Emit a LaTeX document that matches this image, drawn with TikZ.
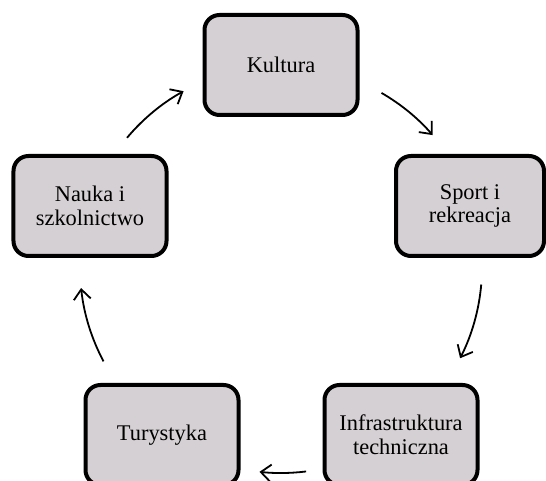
\documentclass[tikz,border=0pt]{standalone}
\usepackage{fontspec}
\setmainfont{Liberation Serif}
\usetikzlibrary{arrows.meta}
\definecolor{boxfill}{RGB}{213,208,211}

\begin{document}
\begin{tikzpicture}[x = 1bp, y = 1bp,
	box/.style = {draw, line width = 4bp, rounded corners = 15bp, fill = boxfill, minimum width = 153bp, minimum height = 100bp, inner sep = 0pt, align = center, font = \fontsize{22.5}{24}\selectfont},
	cycle/.style = {line width = 1.8bp, -{Straight Barb[length = 10bp, width = 17bp]}}]

	% Definition
	
	\def\R{201}
	
	\useasboundingbox (0, 0) rectangle (546, 481);
	\clip (0, 0) rectangle (546, 481);
	
	\coordinate (c) at (281, 214);
	
	% Boxes
	
	\node [box] (kultura) at (281, 416) {Kultura};
	\node [box, minimum width = 148bp] (sport) at (470, 275) {Sport i\\rekreacja};
	\node [box] (infra) at (401, 46) {Infrastruktura\\techniczna};
	\node [box] (turystyka) at (162, 46) {Turystyka};
	\node [box] (nauka) at (90, 275) {Nauka i\\szkolnictwo};
	
	% Arrows on the circle
	
	\path (c) ++(60:\R) coordinate (ks);
	\path (c) ++(-5:\R) coordinate (si);
	\path (c) ++(-83:\R + 5) coordinate (it);
	\path (c) ++(208:\R) coordinate (tn);
	\path (c) ++(140:\R) coordinate (nk);
	
	\draw [cycle] (ks) arc [start angle = 60, end angle = 41, radius = \R];
	\draw [cycle] (si) arc [start angle = -5, end angle = -27, radius = \R];
	\draw [cycle] (it) arc [start angle = -83, end angle = -96, radius = \R + 5];
	\draw [cycle] (tn) arc [start angle = 208, end angle = 186, radius = \R];
	\draw [cycle] (nk) arc [start angle = 140, end angle = 119, radius = \R];

\end{tikzpicture}
\end{document}
